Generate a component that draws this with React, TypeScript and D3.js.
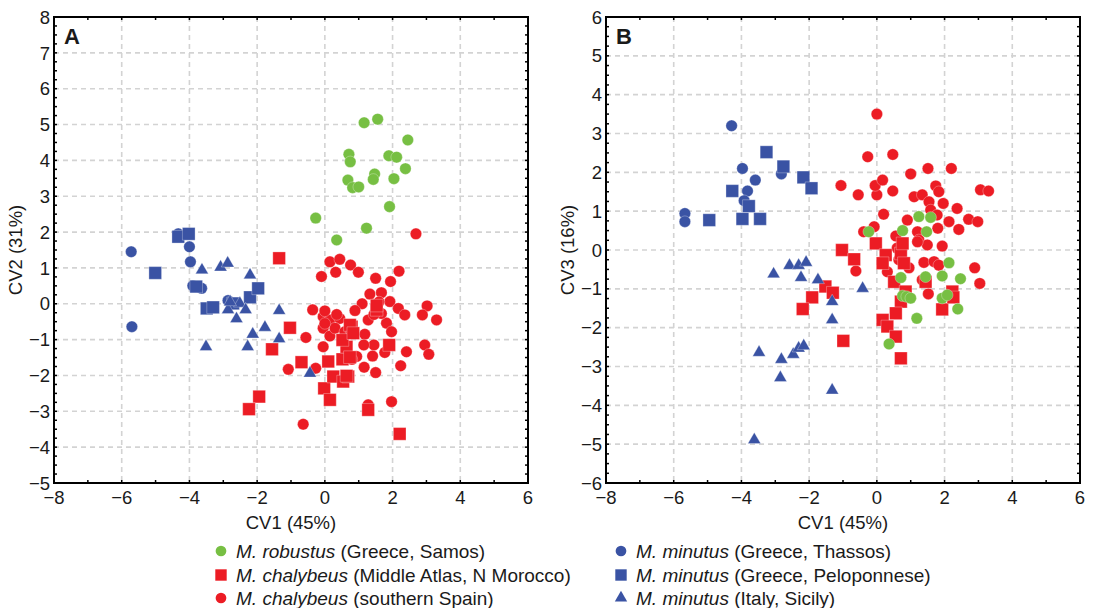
import React from 'react';
import * as d3 from 'd3';

// ---------- data ----------
type Pt = [number, number];

// Panel A: CV1 vs CV2
const robustusA: Pt[] = [[1.16,5.05],[1.56,5.15],[2.45,4.57],[0.71,4.17],[0.75,3.96],[1.89,4.13],[2.12,4.09],[2.38,3.77],[1.47,3.62],[1.43,3.47],[2.04,3.49],[0.68,3.45],[0.82,3.24],[1.00,3.26],[1.91,2.71],[-0.27,2.39],[1.23,2.11],[0.35,1.78]];
const moroccoA: Pt[] = [[-1.35,1.27],[-1.03,-0.67],[-1.56,-1.27],[-0.69,-1.63],[0.10,-1.61],[-1.94,-2.59],[-2.24,-2.94],[-0.02,-2.36],[0.15,-2.68],[0.25,-2.03],[0.54,-2.17],[0.69,-2.03],[0.52,-1.55],[0.64,-1.20],[0.52,-1.01],[0.79,-0.64],[1.28,-2.96],[2.21,-3.63],[1.90,-1.15],[1.53,-0.17],[0.74,-0.59],[0.84,-0.82],[0.74,-1.49],[0.64,-2.01],[1.53,-0.05]];
const spainA: Pt[] = [[2.69,1.95],[0.15,1.17],[0.44,1.24],[0.76,1.08],[0.99,0.88],[-0.10,0.76],[0.32,0.88],[1.50,0.71],[1.94,0.62],[2.19,0.91],[1.33,0.27],[1.67,0.31],[1.10,0.00],[0.89,-0.19],[-0.36,-0.17],[1.92,0.06],[2.17,-0.13],[2.36,-0.31],[3.02,-0.06],[2.88,-0.31],[3.30,-0.45],[1.28,-0.45],[1.82,-0.54],[1.97,-0.78],[1.67,-0.27],[-0.05,-0.36],[0.15,-0.45],[0.44,-0.41],[-0.05,-0.68],[0.15,-0.90],[0.30,-0.68],[0.59,-0.78],[1.18,-0.85],[-0.56,-0.94],[-0.05,-1.20],[1.45,-1.15],[1.77,-1.36],[1.41,-1.46],[0.94,-1.47],[2.41,-1.34],[2.95,-1.15],[3.07,-1.41],[1.16,-1.77],[1.50,-1.92],[2.24,-1.73],[-1.08,-1.83],[-0.27,-1.80],[1.97,-2.73],[1.28,-2.82],[-0.64,-3.36],[0.00,-0.20],[0.35,-0.30],[1.45,-0.30],[0.80,-1.55],[0.00,-0.55],[1.15,-1.15],[1.60,0.05]];
const thassosA: Pt[] = [[-5.72,1.45],[-5.70,-0.64],[-4.33,1.95],[-4.00,1.59],[-3.97,1.17],[-3.64,0.43],[-2.86,0.09],[-3.90,0.50]];
const peloponneseA: Pt[] = [[-4.33,1.87],[-4.02,1.95],[-5.01,0.86],[-3.80,0.48],[-3.49,-0.13],[-3.30,-0.10],[-2.71,0.01],[-2.21,0.18],[-1.97,0.43]];
const sicilyA: Pt[] = [[-3.63,0.94],[-3.08,1.02],[-2.87,1.13],[-2.21,0.80],[-2.86,-0.17],[-2.51,0.01],[-2.34,-0.17],[-2.61,-0.42],[-2.13,-0.85],[-1.77,-0.66],[-1.35,-0.19],[-1.35,-0.98],[-3.51,-1.20],[-2.28,-1.20],[-0.44,-1.94],[-2.80,0.05]];

// Panel B: CV1 vs CV3
const robustusB: Pt[] = [[-0.24,0.47],[0.76,0.50],[1.47,0.47],[1.24,0.86],[1.59,0.84],[2.13,-0.33],[0.71,-0.71],[1.44,-0.69],[1.93,-0.67],[2.47,-0.74],[0.76,-1.18],[0.88,-1.20],[1.00,-1.24],[1.93,-1.24],[2.08,-1.16],[2.39,-1.52],[1.18,-1.76],[0.36,-2.42]];
const moroccoB: Pt[] = [[-1.03,0.00],[-0.67,-0.24],[-1.52,-0.94],[-1.30,-1.10],[-1.91,-1.22],[-2.19,-1.52],[-0.99,-2.34],[-0.03,0.17],[0.26,-0.13],[0.17,-0.34],[0.71,-0.09],[0.76,0.17],[0.80,-0.34],[0.51,-0.82],[0.85,-1.07],[0.71,-1.33],[0.56,-1.63],[0.17,-1.80],[0.31,-1.97],[0.56,-2.23],[0.71,-2.79],[1.93,-1.53],[2.23,-1.07],[2.26,-1.22],[1.44,-0.82]];
const spainB: Pt[] = [[0.00,3.50],[-0.27,2.40],[0.47,2.46],[1.00,1.96],[1.51,2.10],[2.20,2.10],[-1.06,1.66],[-0.55,1.42],[0.00,1.42],[-0.05,1.66],[0.17,1.80],[0.47,1.52],[1.10,1.37],[1.34,1.42],[1.74,1.65],[1.83,1.50],[1.54,1.24],[1.59,1.03],[1.96,1.20],[3.06,1.55],[3.30,1.52],[2.37,1.07],[0.20,0.92],[0.90,0.77],[1.78,0.90],[2.13,0.73],[2.71,0.79],[2.98,0.73],[2.42,0.53],[1.80,0.56],[-0.08,0.60],[-0.39,0.47],[0.56,0.36],[1.20,0.47],[1.24,0.26],[1.49,0.13],[1.93,0.10],[0.76,0.13],[-0.62,-0.54],[0.71,-0.09],[1.39,-0.32],[1.69,-0.30],[1.83,-0.39],[2.89,-0.46],[3.04,-0.86],[0.31,-0.56],[0.95,-0.46],[1.34,-0.77],[1.52,-1.13],[1.20,0.21],[0.60,0.05],[0.65,-0.25]];
const thassosB: Pt[] = [[-4.29,3.20],[-3.97,2.10],[-3.59,1.80],[-3.82,1.52],[-3.92,1.27],[-5.67,0.94],[-5.67,0.73],[-2.82,1.96]];
const peloponneseB: Pt[] = [[-3.26,2.52],[-2.76,2.15],[-2.17,1.87],[-1.93,1.59],[-4.27,1.52],[-3.78,1.13],[-3.97,0.80],[-3.45,0.80],[-4.95,0.77]];
const sicilyB: Pt[] = [[-3.05,-0.62],[-2.58,-0.40],[-2.31,-0.40],[-2.09,-0.32],[-2.24,-0.71],[-1.74,-0.77],[-0.42,-0.99],[-1.32,-1.33],[-1.32,-1.80],[-3.48,-2.64],[-2.82,-2.82],[-2.47,-2.69],[-2.31,-2.53],[-2.16,-2.47],[-2.85,-3.29],[-1.32,-3.61],[-3.62,-4.89]];

const xDomain: [number, number] = [-8, 6];
const yDomainA: [number, number] = [-5, 8];
const yDomainB: [number, number] = [-6, 6];
const xLabel = 'CV1 (45%)';
const yLabelA = 'CV2 (31%)';
const yLabelB = 'CV3 (16%)';

const legendLeft = [
  { sp: 'M. robustus', loc: ' (Greece, Samos)', shape: 'circle', color: 'green' },
  { sp: 'M. chalybeus', loc: ' (Middle Atlas, N Morocco)', shape: 'square', color: 'red' },
  { sp: 'M. chalybeus', loc: ' (southern Spain)', shape: 'circle', color: 'red' },
];
const legendRight = [
  { sp: 'M. minutus', loc: ' (Greece, Thassos)', shape: 'circle', color: 'blue' },
  { sp: 'M. minutus', loc: ' (Greece, Peloponnese)', shape: 'square', color: 'blue' },
  { sp: 'M. minutus', loc: ' (Italy, Sicily)', shape: 'triangle', color: 'blue' },
];

// ---------- style ----------
const COLORS: Record<string, string> = { green: '#77bf43', red: '#ec1c24', blue: '#3a53a4' };
const FONT = '"Liberation Sans", Arial, Helvetica, sans-serif';
const SYM: Record<string, any> = { circle: d3.symbolCircle, square: d3.symbolSquare, triangle: d3.symbolTriangle };
const SIZE: Record<string, number> = { circle: 104, square: 160, triangle: 72 };
const FS = 18.5;
const TXT = '#1a1a1a';

type Box = { left: number; right: number; top: number; bottom: number };

function Panel({ box, yDomain, label, yLabel, groups }: { box: Box; yDomain: [number, number]; label: string; yLabel: string; groups: { data: Pt[]; shape: string; color: string }[] }) {
  const x = d3.scaleLinear().domain(xDomain).range([box.left, box.right]);
  const y = d3.scaleLinear().domain(yDomain).range([box.bottom, box.top]);
  const xMajor = d3.range(xDomain[0], xDomain[1] + 0.001, 2);
  const xMinor = d3.range(xDomain[0], xDomain[1] + 0.001, 1);
  const yMajor = d3.range(yDomain[0], yDomain[1] + 0.001, 1);
  const yMinor = d3.range(yDomain[0], yDomain[1] + 0.001, 0.25);
  const fmt = (v: number) => (v < 0 ? '\u2212' + Math.abs(v) : String(v));
  const tl = 3;
  return (
    <g>
      {/* grid */}
      {xMajor.slice(1, -1).map((v) => (
        <line key={'gx' + v} x1={x(v)} x2={x(v)} y1={box.top} y2={box.bottom} stroke="#d3d3d3" strokeWidth={1.6} strokeDasharray="5,4" />
      ))}
      {yMajor.slice(1, -1).map((v) => (
        <line key={'gy' + v} x1={box.left} x2={box.right} y1={y(v)} y2={y(v)} stroke="#d3d3d3" strokeWidth={1.6} strokeDasharray="5,4" />
      ))}
      {/* markers */}
      {groups.map((g, gi) =>
        g.data.map((d, i) => (
          <path key={gi + '-' + i} d={d3.symbol().type(SYM[g.shape]).size(SIZE[g.shape])() as string} transform={`translate(${x(d[0])},${y(d[1])})`} fill={COLORS[g.color]} stroke="#fff" strokeWidth={0.3} />
        ))
      )}
      {/* ticks */}
      {xMinor.map((v) => (
        <g key={'tx' + v}>
          <line x1={x(v)} x2={x(v)} y1={box.bottom} y2={box.bottom - tl} stroke="#000" strokeWidth={1.5} />
          <line x1={x(v)} x2={x(v)} y1={box.top} y2={box.top + tl} stroke="#000" strokeWidth={1.5} />
        </g>
      ))}
      {yMinor.map((v) => (
        <g key={'ty' + v}>
          <line x1={box.left} x2={box.left + tl} y1={y(v)} y2={y(v)} stroke="#000" strokeWidth={1.5} />
          <line x1={box.right} x2={box.right - tl} y1={y(v)} y2={y(v)} stroke="#000" strokeWidth={1.5} />
        </g>
      ))}
      {/* frame */}
      <rect x={box.left} y={box.top} width={box.right - box.left} height={box.bottom - box.top} fill="none" stroke="#000" strokeWidth={2} />
      {/* tick labels */}
      {xMajor.map((v) => (
        <text key={'lx' + v} x={x(v)} y={box.bottom + 21} textAnchor="middle" fontSize={FS} fontFamily={FONT} fill={TXT}>{fmt(v)}</text>
      ))}
      {yMajor.map((v) => (
        <text key={'ly' + v} x={box.left - 4} y={y(v)} dy="0.36em" textAnchor="end" fontSize={FS} fontFamily={FONT} fill={TXT}>{fmt(v)}</text>
      ))}
      {/* axis titles */}
      <text x={(box.left + box.right) / 2} y={box.bottom + 46} textAnchor="middle" fontSize={FS} fontFamily={FONT} fill={TXT}>{xLabel}</text>
      <text transform={`translate(${box.left - 39},${(box.top + box.bottom) / 2}) rotate(-90)`} dy="0.36em" textAnchor="middle" fontSize={FS} fontFamily={FONT} fill={TXT}>{yLabel}</text>
      <text x={box.left + 10} y={box.top + 27} fontSize={22} fontWeight="bold" fontFamily={FONT} fill={TXT}>{label}</text>
    </g>
  );
}

function LegendItem({ x, y, item }: { x: number; y: number; item: any }) {
  const size = { circle: 90, square: 130, triangle: 66 }[item.shape as 'circle'];
  return (
    <g>
      <path d={d3.symbol().type(SYM[item.shape]).size(size)() as string} transform={`translate(${x},${y})`} fill={COLORS[item.color]} />
      <text x={x + 15} y={y} dy="0.36em" fontSize={19} fontFamily={FONT} fill={TXT}>
        <tspan fontStyle="italic">{item.sp}</tspan>
        <tspan>{item.loc}</tspan>
      </text>
    </g>
  );
}

export default function App() {
  const boxA: Box = { left: 54, right: 528, top: 17, bottom: 483 };
  const boxB: Box = { left: 606, right: 1080, top: 17, bottom: 483 };
  const groupsA = [
    { data: spainA, shape: 'circle', color: 'red' },
    { data: moroccoA, shape: 'square', color: 'red' },
    { data: robustusA, shape: 'circle', color: 'green' },
    { data: thassosA, shape: 'circle', color: 'blue' },
    { data: peloponneseA, shape: 'square', color: 'blue' },
    { data: sicilyA, shape: 'triangle', color: 'blue' },
  ];
  const groupsB = [
    { data: spainB, shape: 'circle', color: 'red' },
    { data: moroccoB, shape: 'square', color: 'red' },
    { data: robustusB, shape: 'circle', color: 'green' },
    { data: thassosB, shape: 'circle', color: 'blue' },
    { data: peloponneseB, shape: 'square', color: 'blue' },
    { data: sicilyB, shape: 'triangle', color: 'blue' },
  ];
  const rowY = [551, 575, 598];
  return (
    <svg width={1097} height={608} style={{ position: 'absolute', left: 0, top: 0, background: '#fff' }}>
      <rect x={0} y={0} width={1097} height={608} fill="#fff" />
      <Panel box={boxA} yDomain={yDomainA} label="A" yLabel={yLabelA} groups={groupsA} />
      <Panel box={boxB} yDomain={yDomainB} label="B" yLabel={yLabelB} groups={groupsB} />
      {legendLeft.map((it, i) => (
        <LegendItem key={'l' + i} x={221} y={rowY[i]} item={it} />
      ))}
      {legendRight.map((it, i) => (
        <LegendItem key={'r' + i} x={621} y={rowY[i]} item={it} />
      ))}
    </svg>
  );
}
